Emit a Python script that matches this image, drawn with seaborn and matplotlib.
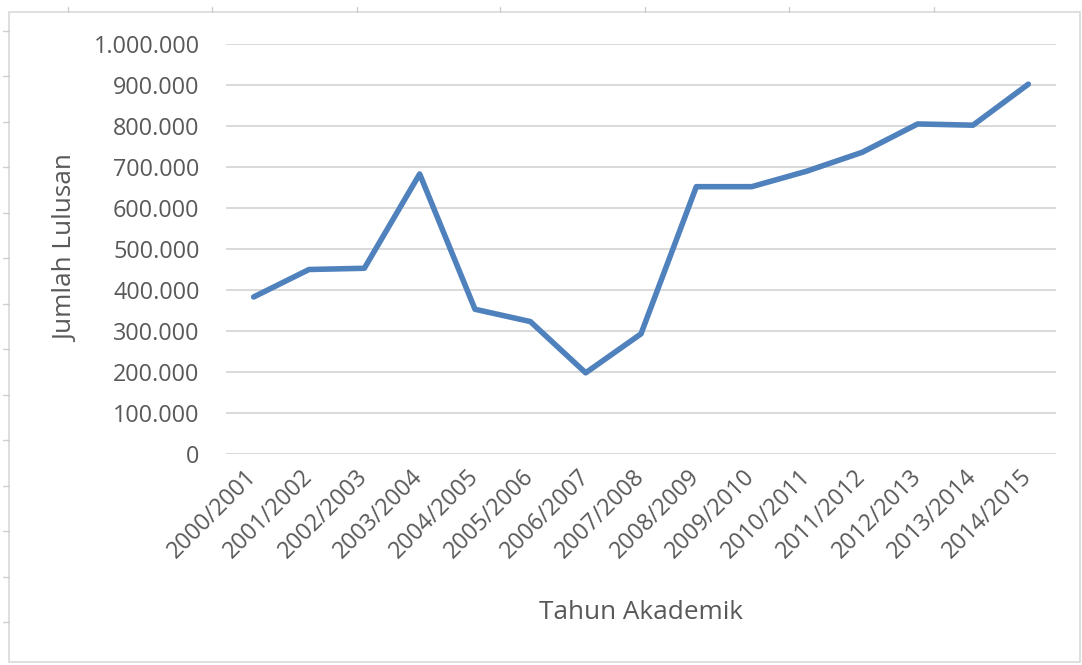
import matplotlib
matplotlib.use("Agg")
import matplotlib.pyplot as plt
import pandas as pd
import seaborn as sns
from matplotlib.lines import Line2D
from matplotlib.patches import Rectangle

# Datos
tahun = ["2000/2001", "2001/2002", "2002/2003", "2003/2004", "2004/2005",
         "2005/2006", "2006/2007", "2007/2008", "2008/2009", "2009/2010",
         "2010/2011", "2011/2012", "2012/2013", "2013/2014", "2014/2015"]
lulusan = [383000, 450000, 453000, 683000, 353000,
           323000, 198000, 293000, 652000, 652000,
           690000, 736000, 805000, 802000, 902000]
y_ticks = [0, 100000, 200000, 300000, 400000, 500000,
           600000, 700000, 800000, 900000, 1000000]

df = pd.DataFrame({"Tahun Akademik": tahun, "Jumlah Lulusan": lulusan})

sns.set_style("white")
plt.rcParams["font.family"] = ["Open Sans", "DejaVu Sans"]
gris = "#595959"

W, H = 1082, 665
fig = plt.figure(figsize=(W / 100, H / 100), dpi=100)
ax = fig.add_axes([226 / W, 1 - 454 / H, (1056 - 226) / W, (454 - 44) / H])

sns.lineplot(data=df, x="Tahun Akademik", y="Jumlah Lulusan", ax=ax,
             color="#4F81BD", linewidth=4, sort=False,
             solid_joinstyle="round", solid_capstyle="round", zorder=3)

ax.set_xlim(-0.5, len(tahun) - 0.5)
ax.set_ylim(0, 1000000)
ax.set_yticks(y_ticks)
ax.set_yticklabels([f"{v:,}".replace(",", ".") for v in y_ticks])
ax.grid(axis="y", color="#D9D9D9", linewidth=1.4, zorder=0)
ax.grid(axis="x", visible=False)
for s in ax.spines.values():
    s.set_visible(False)

ax.tick_params(axis="both", length=0, labelsize=16.8, labelcolor=gris)
ax.tick_params(axis="y", pad=19)
ax.tick_params(axis="x", pad=14)
plt.setp(ax.get_xticklabels(), rotation=45, ha="right", va="center",
         rotation_mode="anchor")

ax.set_xlabel("Tahun Akademik", fontsize=18.8, color=gris, labelpad=26)
ax.set_ylabel("Jumlah Lulusan", fontsize=18.8, color=gris, labelpad=10)

# marco de la hoja de calculo
fig.add_artist(Rectangle((9 / W, 1 - 662 / H), (1080 - 9) / W, (662 - 12) / H,
                         transform=fig.transFigure, fill=False,
                         edgecolor="#D9D9D9", linewidth=1.2))
for x in [68, 212, 357, 500, 645, 789, 934]:
    fig.add_artist(Line2D([x / W, x / W], [1 - 7 / H, 1 - 12 / H],
                          transform=fig.transFigure, color="#CFCFCF", lw=1))
for i in range(14):
    y = 30.5 + i * 45.5
    fig.add_artist(Line2D([3 / W, 9 / W], [1 - y / H, 1 - y / H],
                          transform=fig.transFigure, color="#CFCFCF", lw=1))

fig.savefig("out.png", dpi=100)
